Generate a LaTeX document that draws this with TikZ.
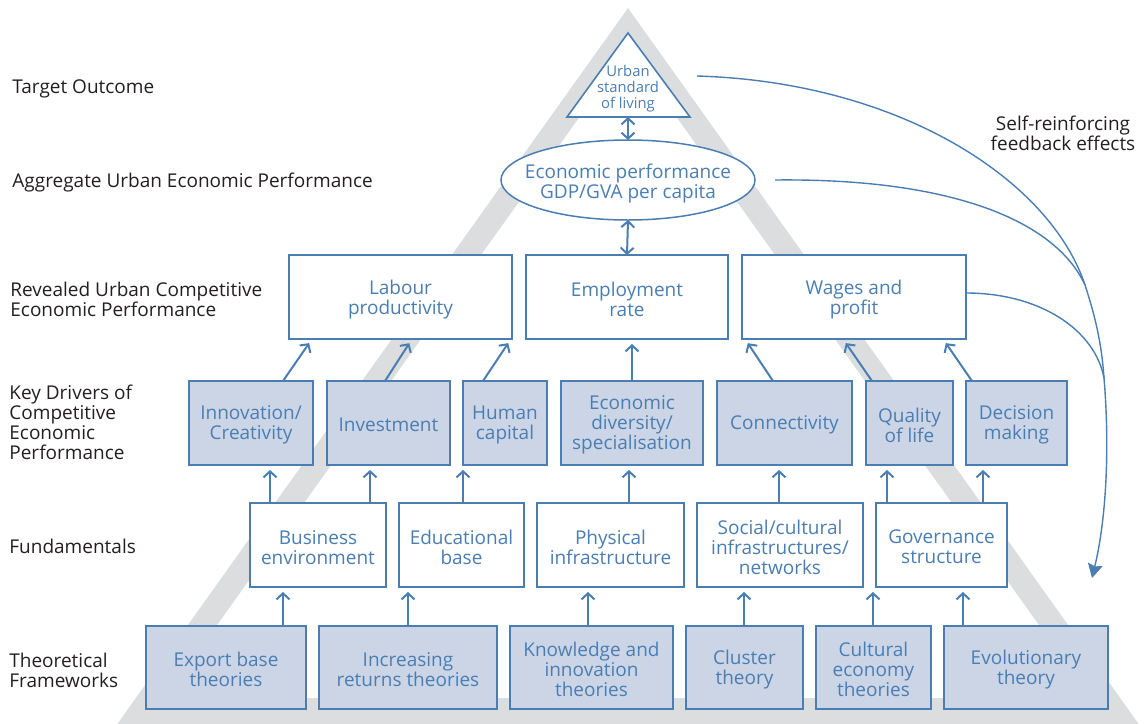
\documentclass[tikz,border=0pt]{standalone}
\usepackage{fontspec}
\setmainfont{Open Sans}
\usetikzlibrary{arrows.meta,shapes.geometric}
\definecolor{bl}{HTML}{4A7EB3}
\definecolor{bfill}{HTML}{CBD5E6}
\definecolor{tri}{HTML}{DCDDDF}
\definecolor{lab}{HTML}{231F20}
\newcommand\mkbox[7]{\node[#1, minimum width={(#5-#3)*0.5pt}, minimum height={(#6-#4)*0.5pt}] (#2) at ({(#3+#5)/2},{(#4+#6)/2}) {};
  \node[boxtext] (#2t) at ([yshift=-1.1pt]#2.center) {#7};}
\begin{document}
\begin{tikzpicture}[x=0.5pt,y=-0.5pt,
  every node/.style={font={\fontsize{9.5pt}{10pt}\selectfont}},
  box/.style={draw=bl, line width=0.75pt, inner sep=0pt, outer sep=0pt, fill=white},
  fbox/.style={box, fill=bfill},
  boxtext/.style={text=bl, align=center, inner sep=0pt},
  lbl/.style={text=lab, align=left, anchor=west, inner sep=0pt},
  arr/.style={draw=bl, line width=1pt, -{Straight Barb[length=3pt,width=6.5pt]}, shorten >=2.5pt},
  darr/.style={draw=bl, line width=1pt, {Straight Barb[length=3pt,width=6.5pt]}-{Straight Barb[length=3pt,width=6.5pt]}},
  fb/.style={draw=bl, line width=0.7pt}
]
\useasboundingbox (0,0) rectangle (1146,723);
\begin{scope}
\clip (0,0) rectangle (1146,723);
\fill[tri, even odd rule] (628,8) -- (113,730) -- (1143,730) -- cycle (628,49) -- (165,698) -- (1091,698) -- cycle;
\end{scope}

% left labels
\node[lbl] (l1) at (12,88.5) {Target Outcome};
\node[lbl] (l2) at (12,182.5) {Aggregate Urban Economic Performance};
\node[lbl] (l3) at (10,299) {Revealed Urban Competitive\\Economic Performance};
\node[lbl] (l4) at (9,422) {Key Drivers of\\Competitive\\Economic\\Performance};
\node[lbl] (l5) at (9,546) {Fundamentals};
\node[lbl] (l6) at (9,670) {Theoretical\\Frameworks};
\node[text=lab, align=center, inner sep=0pt] (sr) at (1063,133) {Self-reinforcing\\feedback effects};

% top triangle
\draw[bl, line width=0.8pt, fill=white] (628,33) -- (690,117) -- (567,117) -- cycle;
\node[text=bl, align=center, inner sep=0pt, font={\fontsize{7.4pt}{8pt}\selectfont}] (usl) at (628,89) {Urban\\standard\\of living};
\coordinate (tb) at (628,117);

% ellipse
\node[ellipse, draw=bl, line width=0.75pt, fill=white, minimum width=127pt, minimum height=40pt, inner sep=0pt, outer sep=0pt] (eco) at (628,180) {};
\node[boxtext] (ecot) at (628,183.5) {Economic performance\\GDP/GVA per capita};

% revealed
\mkbox{box}{r1}{289}{255}{512}{339}{Labour\\productivity}
\mkbox{box}{r2}{526}{255}{728}{339}{Employment\\rate}
\mkbox{box}{r3}{742}{255}{966}{339}{Wages and\\profit}

% key drivers
\mkbox{fbox}{k1}{189}{381}{313}{465}{Innovation/\\Creativity}
\mkbox{fbox}{k2}{327}{381}{450}{465}{Investment}
\mkbox{fbox}{k3}{463}{381}{547}{465}{Human\\capital}
\mkbox{fbox}{k4}{561}{381}{703}{465}{Economic\\diversity/\\specialisation}
\mkbox{fbox}{k5}{717}{381}{852}{465}{Connectivity}
\mkbox{fbox}{k6}{866}{381}{953}{465}{Quality\\of life}
\mkbox{fbox}{k7}{966}{381}{1067}{465}{Decision\\making}

% fundamentals
\mkbox{box}{f1}{250}{503}{386}{587}{Business\\environment}
\mkbox{box}{f2}{399}{503}{524}{587}{Educational\\base}
\mkbox{box}{f3}{537}{503}{684}{587}{Physical\\infrastructure}
\mkbox{box}{f4}{697}{503}{863}{587}{Social/cultural\\infrastructures/\\networks}
\mkbox{box}{f5}{876}{503}{1007}{587}{Governance\\structure}

% theories
\mkbox{fbox}{t1}{146}{626}{306}{709}{Export base\\theories}
\mkbox{fbox}{t2}{319}{626}{497}{709}{Increasing\\returns theories}
\mkbox{fbox}{t3}{510}{626}{673}{709}{Knowledge and\\innovation\\theories}
\mkbox{fbox}{t4}{686}{626}{803}{709}{Cluster\\theory}
\mkbox{fbox}{t5}{816}{626}{931}{709}{Cultural\\economy\\theories}
\mkbox{fbox}{t6}{944}{626}{1108}{709}{Evolutionary\\theory}

% double arrows
\draw[darr] (tb) -- (eco.north);
\draw[darr] (eco.south) -- (r2.north);

% key -> revealed
\draw[arr] (k1.north -| 283,0) -- (r1.south -| 312,0);
\draw[arr] (k2.north -| 385,0) -- (r1.south -| 412,0);
\draw[arr] (k3.north -| 483,0) -- (r1.south -| 511,0);
\draw[arr] (k4.north) -- (r2.south -| k4.north);
\draw[arr] (k5.north -| 773,0) -- (r3.south -| 745,0);
\draw[arr] (k6.north -| 872,0) -- (r3.south -| 843,0);
\draw[arr] (k7.north -| 972,0) -- (r3.south -| 943,0);

% fundamentals -> key
\draw[arr] (f1.north -| 270,0) -- (k1.south -| 270,0);
\draw[arr] (f1.north -| 370,0) -- (k2.south -| 370,0);
\draw[arr] (f2.north -| 463,0) -- (k3.south -| 463,0);
\draw[arr] (f3.north -| 629,0) -- (k4.south -| 629,0);
\draw[arr] (f4.north -| 779,0) -- (k5.south -| 779,0);
\draw[arr] (f5.north -| 887,0) -- (k6.south -| 887,0);
\draw[arr] (f5.north -| 983,0) -- (k7.south -| 983,0);

% theories -> fundamentals
\draw[arr] (t1.north -| 283,0) -- (f1.south -| 283,0);
\draw[arr] (t2.north -| 408,0) -- (f2.south -| 408,0);
\draw[arr] (t3.north -| 588,0) -- (f3.south -| 588,0);
\draw[arr] (t4.north -| 744,0) -- (f4.south -| 744,0);
\draw[arr] (t5.north -| 873,0) -- (f5.south -| 873,0);
\draw[arr] (t6.north -| 963,0) -- (f5.south -| 963,0);

% feedback curves
\coordinate (c1) at (697,76);
\coordinate (c2) at (775,180);
\coordinate (N) at (1085,285);
\coordinate (M) at (1104,378);
\coordinate (tip) at (1092,578);
\draw[fb] (c1) .. controls (900,82) and (1050,180) .. (N);
\draw[fb] (c2) .. controls (950,178) and (1055,220) .. (N) .. controls (1098,325) and (1102,350) .. (M);
\draw[fb, -{Stealth[length=7pt,width=7.5pt,inset=1pt]}] (r3.east |- 0,293) .. controls (1040,293) and (1095,330) .. (M) .. controls (1110,450) and (1106,520) .. (tip);
\end{tikzpicture}
\end{document}
